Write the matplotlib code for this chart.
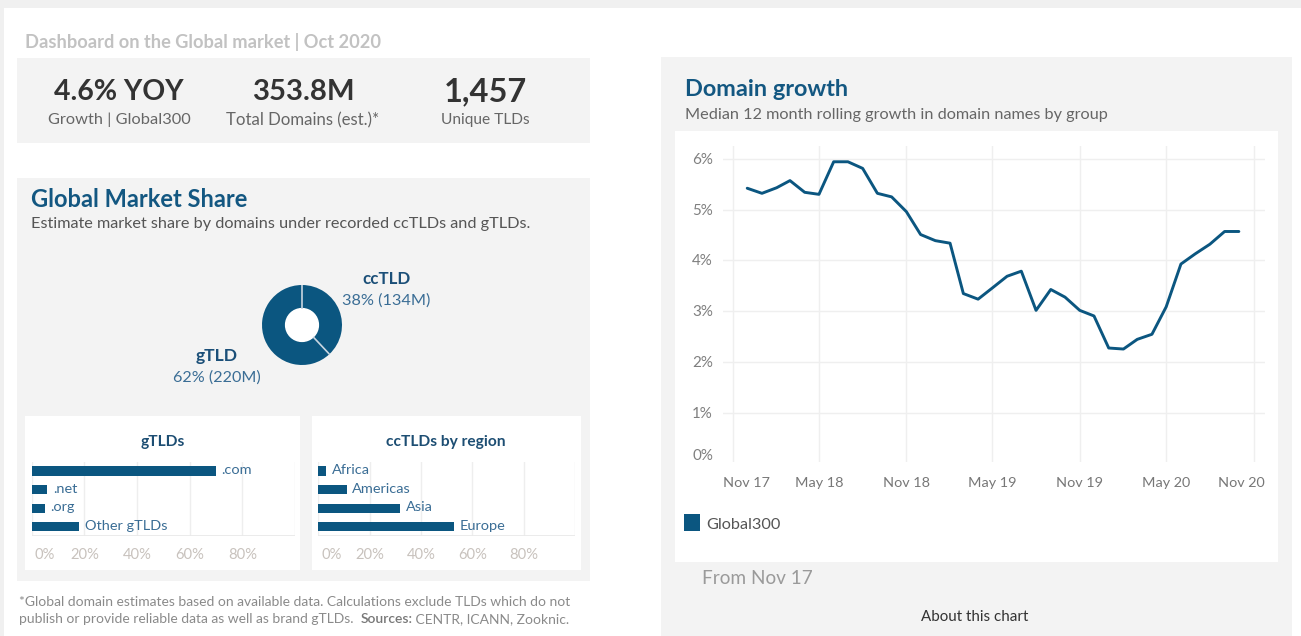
import datetime as dt
import matplotlib
matplotlib.use('Agg')
import matplotlib.pyplot as plt
from matplotlib.patches import Rectangle, Circle
from matplotlib.transforms import offset_copy
import numpy as np

plt.rcParams['font.family'] = ['Lato', 'DejaVu Sans']

# ---------------- data ----------------
kpi_values = ['4.6% YOY', '353.8M', '1,457']
kpi_labels = ['Growth | Global300', 'Total Domains (est.)*', 'Unique TLDs']

share_labels = ['ccTLD', 'gTLD']
share_pct = [38, 62]
share_count = ['134M', '220M']

gtld_names = ['.com', '.net', '.org', 'Other gTLDs']
gtld_share = [70, 6, 5, 18]
cctld_regions = ['Africa', 'Americas', 'Asia', 'Europe']
cctld_share = [3, 11, 32, 53]
bar_ticks = [0, 20, 40, 60, 80]

months = ['2017-12', '2018-01', '2018-02', '2018-03', '2018-04', '2018-05',
          '2018-06', '2018-07', '2018-08', '2018-09', '2018-10', '2018-11',
          '2018-12', '2019-01', '2019-02', '2019-03', '2019-04', '2019-05',
          '2019-06', '2019-07', '2019-08', '2019-09', '2019-10', '2019-11',
          '2019-12', '2020-01', '2020-02', '2020-03', '2020-04', '2020-05',
          '2020-06', '2020-07', '2020-08', '2020-09', '2020-10']
growth = [5.42, 5.32, 5.43, 5.57, 5.34, 5.30, 5.94, 5.94, 5.81, 5.32, 5.25, 4.96,
          4.51, 4.39, 4.34, 3.35, 3.24, 3.46, 3.69, 3.79, 3.02, 3.43, 3.28, 3.02,
          2.91, 2.28, 2.26, 2.45, 2.55, 3.09, 3.93, 4.13, 4.32, 4.57, 4.57]
xtick_months = ['2017-11', '2018-05', '2018-11', '2019-05', '2019-11', '2020-05', '2020-11']
xtick_labels = ['Nov 17', 'May 18', 'Nov 18', 'May 19', 'Nov 19', 'May 20', 'Nov 20']
ytick_vals = [0, 1, 2, 3, 4, 5, 6]

# ---------------- style ----------------
W, H = 1301, 636
BLUE = '#0b5680'
TITLE_BLUE = '#135781'
LABEL_BLUE = '#3a6d95'
PANEL = '#f3f3f3'
DY = 2  # baseline correction for text placement

fig = plt.figure(figsize=(W / 100, H / 100), dpi=100)
fig.patch.set_facecolor('white')
renderer = fig.canvas.get_renderer()


def rect(x0, y0, x1, y1, color, z=-5):
    fig.patches.append(Rectangle((x0 / W, 1 - y1 / H), (x1 - x0) / W, (y1 - y0) / H,
                                 transform=fig.transFigure, facecolor=color,
                                 edgecolor='none', zorder=z))


def fit_size(s, width, base=10, **kw):
    t = fig.text(0, 0, s, fontsize=base, **kw)
    w = t.get_window_extent(renderer).width
    t.remove()
    return base * width / w


def ftext(x, y, s, width=None, size=10, ha='left', va='center', **kw):
    if width is not None:
        size = fit_size(s, width, **kw)
    return fig.text(x / W, 1 - (y + DY) / H, s, ha=ha, va=va, fontsize=size, **kw)


def ax_px(x0, y0, x1, y1):
    return fig.add_axes([x0 / W, 1 - y1 / H, (x1 - x0) / W, (y1 - y0) / H])


# ---------------- backgrounds ----------------
rect(0, 0, W, 8, '#f0f0f0')
rect(0, 0, 4, H, '#f0f0f0')
rect(17, 58, 590, 143, PANEL)
rect(17, 178, 590, 581, PANEL)
rect(25, 416, 300, 570, 'white')
rect(312, 416, 581, 570, 'white')
rect(661, 57, 1292, 636, PANEL)
rect(675, 131, 1278, 562, 'white')

# ---------------- header + KPIs ----------------
ftext(25, 40, 'Dashboard on the Global market | Oct 2020', width=357,
      color='#c2c2c2', fontweight='bold')
kpi_x = [119, 303, 485]
kpi_vw = [130, 102, 83]
kpi_lw = [142, 154, 89]
for x, v, l, vw, lw in zip(kpi_x, kpi_values, kpi_labels, kpi_vw, kpi_lw):
    ftext(x, 90, v, width=vw, ha='center', color='#333333', fontweight='bold')
    ftext(x, 118, l, width=lw, ha='center', color='#666666')

# ---------------- Global market share ----------------
ftext(31, 198, 'Global Market Share', width=217, color=TITLE_BLUE, fontweight='bold')
ftext(31, 222, 'Estimate market share by domains under recorded ccTLDs and gTLDs.',
      width=500, color='#555555')

axd = ax_px(252, 275, 352, 375)
axd.pie(share_pct, radius=1, startangle=90, counterclock=False,
        colors=[BLUE, BLUE], wedgeprops=dict(width=0.59, linewidth=0))
axd.add_patch(Circle((0, 0), 0.41, color='white', zorder=3))
bounds = np.concatenate([[0], np.cumsum(share_pct)]) / sum(share_pct)
for b in bounds[:-1]:
    ang = np.deg2rad(90 - 360 * b)
    axd.plot([0.41 * np.cos(ang), 1.0 * np.cos(ang)],
             [0.41 * np.sin(ang), 1.0 * np.sin(ang)],
             color='#c8d5e0', lw=1.2, zorder=4, solid_capstyle='butt')
axd.set_xlim(-1.25, 1.25)
axd.set_ylim(-1.25, 1.25)
axd.set_aspect('equal')
axd.axis('off')

lab_pos = [(386, 277), (217, 354)]
name_w = [48, 42]
for (x, y), name, p, c, nw in zip(lab_pos, share_labels, share_pct, share_count, name_w):
    ftext(x, y, name, width=nw, ha='center', color='#1b4f78', fontweight='bold')
    ftext(x, y + 22, f'{p}% ({c})', width=88, ha='center', color=LABEL_BLUE)

# ---------------- small bar charts ----------------
lab_size = fit_size('Other gTLDs', 82)
tick_size = fit_size('20%', 29)
title_size = fit_size('ccTLDs by region', 120, fontweight='bold')


def bar_panel(x0, x1, names, vals, title, title_x):
    ax = ax_px(x0, 461.7, x1, 536)
    ax.set_facecolor('none')
    ypos = np.arange(len(names))
    ax.barh(ypos, vals, height=0.49, color=BLUE, zorder=3)
    ax.set_xlim(0, 100)
    ax.set_ylim(len(names) - 0.5, -0.5)
    for t in bar_ticks + [100]:
        ax.axvline(t, color='#eeeeee', lw=1, zorder=0)
    ax.axhline(len(names) - 0.5, color='#e8e8e8', lw=1.2, zorder=1)
    for sp in ax.spines.values():
        sp.set_visible(False)
    ax.set_xticks([])
    ax.set_yticks([])
    lab_tr = offset_copy(ax.transData, fig=fig, x=5.5, y=1, units='dots')
    for i, (n, v) in enumerate(zip(names, vals)):
        ax.text(v, i, n, transform=lab_tr, ha='left', va='center',
                fontsize=lab_size, color=LABEL_BLUE)
    for t in bar_ticks:
        if t == 0:
            tr = offset_copy(ax.get_xaxis_transform(), fig=fig, x=3, y=-19, units='dots')
            ha = 'left'
        else:
            tr = offset_copy(ax.get_xaxis_transform(), fig=fig, x=0, y=-19, units='dots')
            ha = 'center'
        ax.text(t, 0, f'{t}%', transform=tr, ha=ha, va='center',
                fontsize=tick_size, color='#c8c2bd')
    ftext(title_x, 440, title, size=title_size, ha='center', color='#1d4e73',
          fontweight='bold')


bar_panel(31.7, 295, gtld_names, gtld_share, 'gTLDs', 163)
bar_panel(318.3, 575, cctld_regions, cctld_share, 'ccTLDs by region', 446)

# ---------------- footnote ----------------
fn_size = fit_size('*Global domain estimates based on available data. Calculations exclude '
                   'TLDs which do not', 549)
ftext(19, 600, '*Global domain estimates based on available data. Calculations exclude '
      'TLDs which do not', size=fn_size, color='#8a8a8a')
t1 = ftext(19, 617, 'publish or provide reliable data as well as brand gTLDs.  ',
           size=fn_size, color='#8a8a8a')
x_next = 19 + t1.get_window_extent(renderer).width
t2 = ftext(x_next, 617, 'Sources:', size=fn_size, color='#777777', fontweight='semibold')
x_next += t2.get_window_extent(renderer).width
ftext(x_next, 617, ' CENTR, ICANN, Zooknic.', size=fn_size, color='#8a8a8a')

# ---------------- domain growth line chart ----------------
ftext(685, 88, 'Domain growth', width=163, color=TITLE_BLUE, fontweight='bold')
ftext(685, 113, 'Median 12 month rolling growth in domain names by group', width=425,
      color='#666666')

ax = ax_px(723, 146, 1265, 462)
ax.set_facecolor('white')
dates = [dt.datetime.strptime(m, '%Y-%m') for m in months]
tick_dates = [dt.datetime.strptime(m, '%Y-%m') for m in xtick_months]
ax.plot(dates, growth, color=BLUE, lw=2.1, solid_joinstyle='round',
        solid_capstyle='round', zorder=3)
x_lo, x_hi = dt.datetime(2017, 10, 11), dt.datetime(2020, 11, 25)
ax.set_xlim(x_lo, x_hi)
y_lo = 0.04
ax.set_ylim(y_lo, 6.25)
for v in ytick_vals[1:]:
    ax.axhline(v, color='#efefef', lw=1, zorder=0)
for d in tick_dates:
    ax.axvline(d, color='#efefef', lw=1, zorder=0)
for sp in ax.spines.values():
    sp.set_visible(False)
ax.set_xticks([])
ax.set_yticks([])

ysize = fit_size('6%', 21)
ytr = offset_copy(ax.get_yaxis_transform(), fig=fig, x=-10, y=-1, units='dots')
for v in ytick_vals:
    if v <= y_lo:
        ax.text(0, y_lo, f'{v}%', transform=ytr, ha='right', va='bottom',
                fontsize=ysize, color='#7f7f7f')
    else:
        ax.text(0, v, f'{v}%', transform=ytr, ha='right', va='center',
                fontsize=ysize, color='#7f7f7f')

xsize = fit_size('Nov 17', 47)
xtr = offset_copy(ax.get_xaxis_transform(), fig=fig, x=0, y=-21, units='dots')
for i, (d, l) in enumerate(zip(tick_dates, xtick_labels)):
    if i == 0:
        ax.text(x_lo, 0, l, transform=xtr, ha='left', va='center', fontsize=xsize,
                color='#777777')
    elif i == len(tick_dates) - 1:
        ax.text(x_hi, 0, l, transform=xtr, ha='right', va='center', fontsize=xsize,
                color='#777777')
    else:
        ax.text(d, 0, l, transform=xtr, ha='center', va='center', fontsize=xsize,
                color='#777777')

# legend
rect(684, 514, 700, 531, BLUE, z=2)
ftext(706, 523, 'Global300', width=74, color='#555555')

ftext(702, 577, 'From Nov 17', width=111, color='#9a9a9a')
ftext(975, 615, 'About this chart', width=107, ha='center', color='#333333')

fig.savefig('out.png', dpi=100, facecolor=fig.get_facecolor())
